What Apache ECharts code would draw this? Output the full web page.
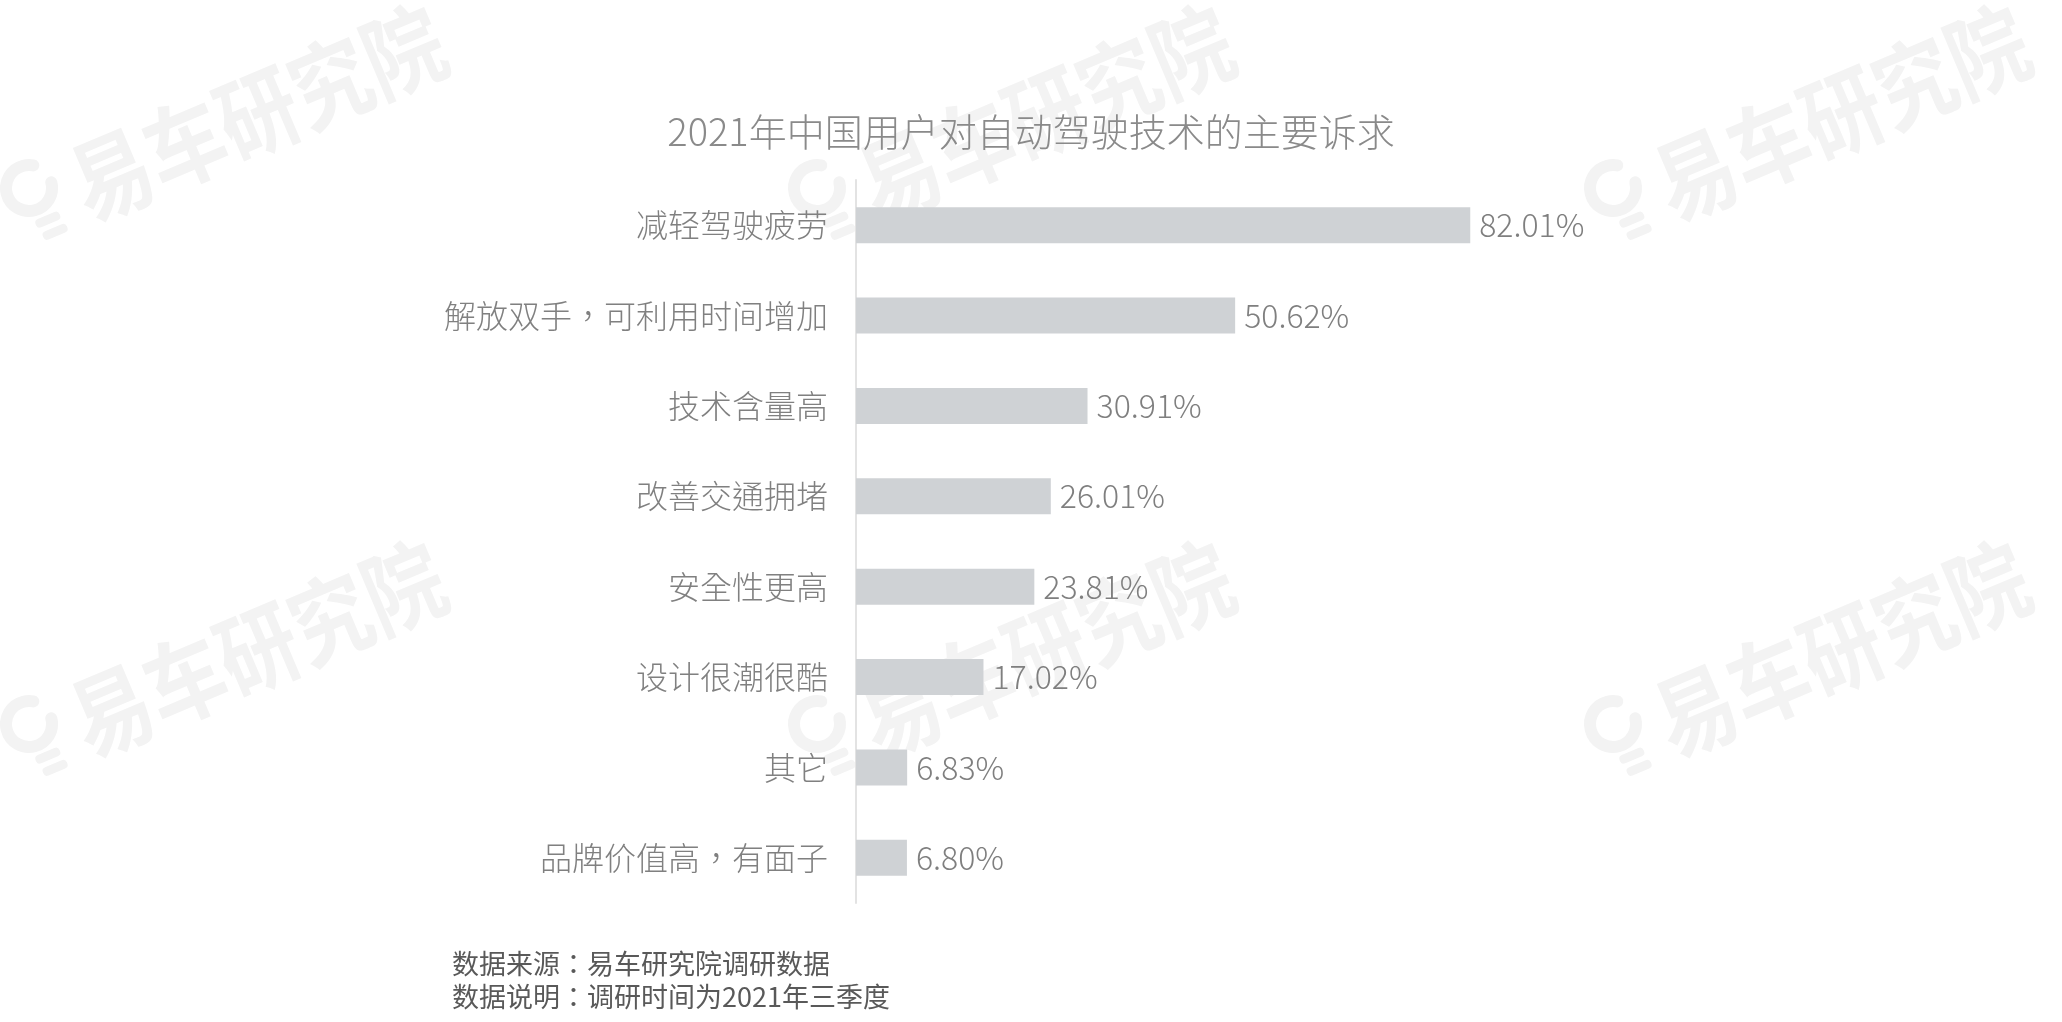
<!DOCTYPE html>
<html>
<head>
<meta charset="utf-8">
<script src="https://cdn.jsdelivr.net/npm/echarts@6/dist/echarts.min.js"></script>
<style>
html,body{margin:0;padding:0;background:#fff;}
#chart{width:2062px;height:1022px;}
</style>
</head>
<body>
<div id="chart"></div>
<script>
var categories = ['减轻驾驶疲劳', '解放双手，可利用时间增加', '技术含量高', '改善交通拥堵', '安全性更高', '设计很潮很酷', '其它', '品牌价值高，有面子'];
var values = [82.01, 50.62, 30.91, 26.01, 23.81, 17.02, 6.83, 6.80];
var titleText = '2021年中国用户对自动驾驶技术的主要诉求';
var noteLines = ['数据来源：易车研究院调研数据', '数据说明：调研时间为2021年三季度'];
var watermarkText = '易车研究院';

var FONT = '"Noto Sans CJK SC", "Noto Sans", sans-serif';
var FONT_P = '"Noto Sans CJK TC", "Noto Sans CJK SC", sans-serif';
var chart = echarts.init(document.getElementById('chart'));

function watermark(x, y) {
  var c = '#f3f3f3';
  return {
    type: 'group',
    x: x, y: y,
    rotation: 0.40,
    z: -10,
    silent: true,
    children: [
      { type: 'arc', z: -10, shape: { cx: 0, cy: 0, r: 23, startAngle: 0.15, endAngle: 5.3, clockwise: true },
        style: { stroke: c, lineWidth: 12, fill: null, lineCap: 'round' } },
      { type: 'rect', z: -10, shape: { x: -8, y: 32, width: 26, height: 9, r: 4 }, style: { fill: c } },
      { type: 'rect', z: -10, shape: { x: -6, y: 46, width: 26, height: 9, r: 4 }, style: { fill: c } },
      { type: 'text', z: -10, x: 42, y: 20, scaleX: 0.92, scaleY: 1.08,
        style: { text: watermarkText, fill: c, font: 'bold 86px ' + FONT, textVerticalAlign: 'middle', textAlign: 'left' } }
    ]
  };
}

var wmCols = [29, 817, 1613];
var wmRows = [188, 724];
var graphics = [];
wmRows.forEach(function (ry) { wmCols.forEach(function (cx) { graphics.push(watermark(cx, ry)); }); });

chart.setOption({
  backgroundColor: '#ffffff',
  animation: false,
  graphic: graphics,
  title: [
    { text: titleText, left: 'center', top: 108,
      textStyle: { fontFamily: FONT, fontSize: 38, fontWeight: 300, color: '#8a8a8a' } },
    { text: noteLines.join('\n'), left: 447, top: 942,
      textStyle: { fontFamily: FONT_P, fontSize: 27, fontWeight: 400, color: '#595959', lineHeight: 33 } }
  ],
  grid: { left: 856, right: 457, top: 180, bottom: 119, containLabel: false },
  xAxis: {
    type: 'value', min: 0, max: 100,
    show: false
  },
  yAxis: {
    type: 'category', data: categories, inverse: true,
    axisLine: { show: true, lineStyle: { color: '#e3e3e3', width: 2 } },
    axisTick: { show: false },
    axisLabel: { margin: 28, fontFamily: FONT_P, fontSize: 32, fontWeight: 300, color: '#808080' },
    splitLine: { show: false }
  },
  series: [{
    type: 'bar',
    data: values,
    barWidth: 36,
    itemStyle: { color: '#cfd2d5' },
    label: {
      show: true, position: 'right', distance: 9,
      fontFamily: FONT, fontSize: 32, fontWeight: 300, color: '#7f7f7f',
      formatter: function (p) { return p.value.toFixed(2) + '%'; }
    }
  }]
});
</script>
</body>
</html>
